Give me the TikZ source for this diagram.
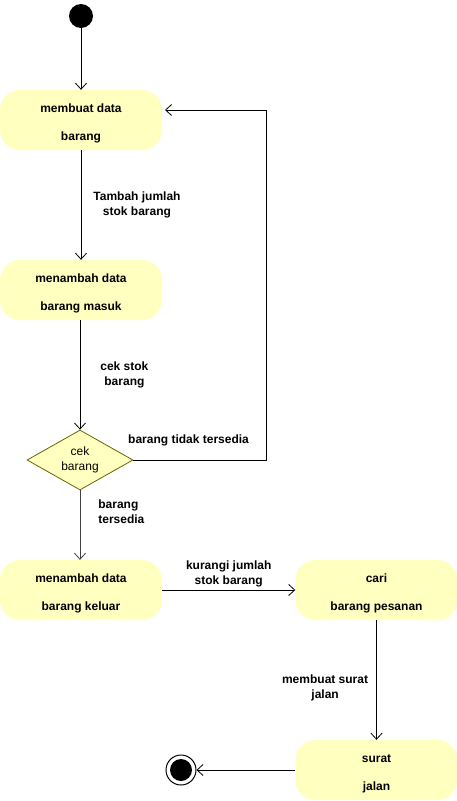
\documentclass[tikz,border=0pt]{standalone}
\usepackage{fontspec}
\setmainfont{Liberation Sans}
\usetikzlibrary{arrows.meta,shapes.geometric}
\definecolor{actfill}{HTML}{FFFFC0}
\definecolor{decstroke}{HTML}{666600}
\newcommand{\topstrut}{\rule{0pt}{15pt}}
\tikzset{
  act/.style={fill=actfill, draw=none, rounded corners=20pt, minimum width=162pt, minimum height=60pt, align=center, font=\fontsize{12pt}{14pt}\selectfont\bfseries, inner sep=0pt},
  flow/.style={draw=black, line width=0.8pt, -{Straight Barb[length=6pt,width=11pt]}},
  lbl/.style={font=\fontsize{12pt}{15pt}\selectfont\bfseries, align=center, inner sep=0pt},
}
\begin{document}
\begin{tikzpicture}[x=1pt,y=-1pt]
\useasboundingbox (0,0) rectangle (457,801);
\node[circle, fill=black, minimum size=24pt, inner sep=0pt] (start) at (81,16) {};
\node[act] (a1) at (81,120) {\topstrut membuat data\\[14pt]barang};
\node[act] (a2) at (81,290) {\topstrut menambah data\\[14pt]barang masuk};
\node[diamond, aspect=1.77, fill=actfill, draw=decstroke, line width=0.8pt, minimum width=106pt, minimum height=60pt, inner sep=0pt, align=center, font=\fontsize{12pt}{15.5pt}\selectfont] (d) at (80,460) {cek\\barang};
\node[act] (a3) at (81,590) {\topstrut menambah data\\[14pt]barang keluar};
\node[act] (a4) at (376.5,590) {\topstrut cari\\[14pt]barang pesanan};
\node[act] (a5) at (376.5,770) {\topstrut surat\\[14pt]jalan};
\node[circle, draw=black, line width=1pt, minimum size=30pt, inner sep=0pt] (end) at (181,770) {};
\node[circle, fill=black, minimum size=22pt, inner sep=0pt] (endin) at (end.center) {};
\coordinate (c1) at (266,460);
\coordinate (c2) at (266,110);
\coordinate (c3) at (165,110);

\draw[flow] (start) -- (a1);
\draw[flow] (a1) -- (a2) node[lbl, pos=0.5, right=12pt] {Tambah jumlah\\stok barang};
\draw[flow] (a2.south -| d.north) -- (d.north) node[lbl, pos=0.5, right=20pt] {cek stok\\barang};
\draw[flow] (d.east) -- (c1) -- (c2) -- (c3);
\node[lbl, anchor=west] (lt) at (128,440) {barang tidak tersedia};
\draw[flow, draw=black!75] (d.south) -- (d.south |- a3.north) node[lbl, align=left, pos=0.3, anchor=west, xshift=18pt] {barang\\tersedia};
\draw[flow] (a3.east) -- (a4.west) node[lbl, midway, above=3pt] {kurangi jumlah\\stok barang};
\draw[flow] (a4) -- (a5) node[lbl, pos=0.57, left=8pt] {membuat surat\\jalan};
\draw[flow] (a5) -- (end);
\end{tikzpicture}
\end{document}
